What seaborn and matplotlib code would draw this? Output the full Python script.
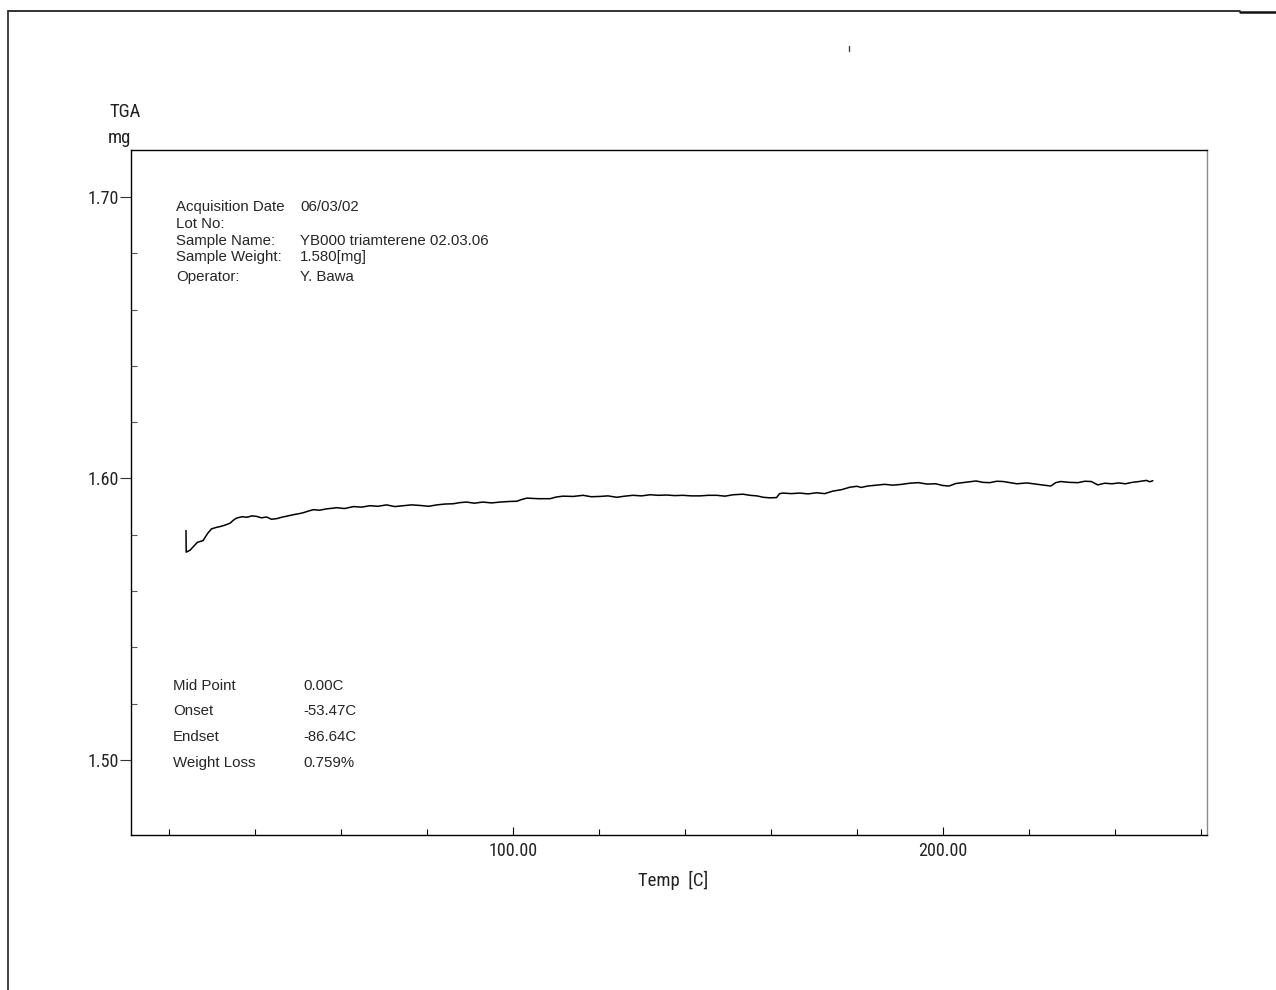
import numpy as np
import pandas as pd
import matplotlib
matplotlib.use("Agg")
import matplotlib.pyplot as plt
from matplotlib import font_manager
import seaborn as sns

# TGA trace: temperature [C] and sample mass [mg]
temp_c = [
    23.95, 24.0, 24.9, 25.8, 26.6, 27.9, 29.0, 29.9, 31.0, 31.9, 33.0, 34.2, 35.0, 35.7,
    37.0, 38.1, 39.3, 40.4, 41.5, 42.7, 43.8, 45.0, 46.2, 47.4, 48.9, 50.0, 51.2, 52.4,
    53.6, 55.0, 56.7, 58.0, 59.0, 60.8, 62.9, 64.8, 66.7, 68.6, 70.6, 72.5, 74.5, 76.4,
    78.4, 80.4, 82.3, 84.2, 86.1, 87.6, 89.2, 91.0, 93.0, 95.0, 97.0, 99.0, 100.9, 102.0,
    103.2, 105.9, 108.6, 110.1, 111.6, 114.0, 116.3, 118.2, 120.2, 122.1, 124.1, 126.0,
    127.9, 129.9, 131.9, 133.8, 135.7, 137.6, 139.5, 141.5, 143.5, 145.4, 147.4, 149.3,
    151.2, 153.5, 155.1, 156.7, 158.2, 159.8, 161.3, 162.0, 162.8, 164.7, 166.7, 168.6,
    170.6, 172.5, 174.4, 176.4, 178.4, 180.0, 181.0, 182.5, 184.4, 186.4, 188.4, 190.4,
    192.3, 194.3, 196.3, 198.3, 199.9, 201.4, 203.0, 204.6, 206.1, 207.7, 209.3, 210.9,
    212.5, 214.0, 215.6, 217.2, 219.5, 221.9, 223.5, 225.1, 226.2, 227.4, 229.4, 231.4,
    233.0, 234.5, 236.0, 237.6, 239.3, 240.9, 242.4, 244.0, 245.6, 247.3, 248.1, 248.8,
]
mass_mg = [
    1.5815, 1.5738, 1.5745, 1.5760, 1.5773, 1.5779, 1.5805, 1.5821, 1.5826, 1.5829, 1.5834, 1.5841, 1.5852, 1.5859,
    1.5864, 1.5862, 1.5867, 1.5865, 1.5860, 1.5863, 1.5855, 1.5857, 1.5862, 1.5866, 1.5871, 1.5874, 1.5878, 1.5884,
    1.5889, 1.5887, 1.5892, 1.5894, 1.5896, 1.5893, 1.5900, 1.5898, 1.5903, 1.5901, 1.5906, 1.5900, 1.5903, 1.5906,
    1.5904, 1.5901, 1.5906, 1.5909, 1.5910, 1.5914, 1.5916, 1.5912, 1.5916, 1.5913, 1.5916, 1.5918, 1.5919, 1.5925,
    1.5930, 1.5928, 1.5928, 1.5934, 1.5937, 1.5936, 1.5940, 1.5935, 1.5936, 1.5938, 1.5933, 1.5937,
    1.5940, 1.5938, 1.5942, 1.5940, 1.5941, 1.5939, 1.5940, 1.5938, 1.5938, 1.5940, 1.5940, 1.5937,
    1.5942, 1.5944, 1.5940, 1.5938, 1.5933, 1.5931, 1.5932, 1.5946, 1.5948, 1.5946, 1.5948, 1.5945,
    1.5949, 1.5946, 1.5955, 1.5960, 1.5969, 1.5972, 1.5968, 1.5973, 1.5976, 1.5979, 1.5976, 1.5979,
    1.5983, 1.5985, 1.5980, 1.5981, 1.5975, 1.5973, 1.5982, 1.5985, 1.5988, 1.5991, 1.5986, 1.5985,
    1.5990, 1.5989, 1.5985, 1.5981, 1.5984, 1.5979, 1.5976, 1.5973, 1.5985, 1.5989, 1.5986, 1.5985,
    1.5990, 1.5989, 1.5977, 1.5983, 1.5981, 1.5984, 1.5981, 1.5986, 1.5989, 1.5993, 1.5988, 1.5992,
]

# Tick values and labels
x_major = [100.0, 200.0]
x_major_labels = ["100.00", "200.00"]
x_minor = [20, 40, 60, 80, 120, 140, 160, 180, 220, 240, 260]
y_major = [1.50, 1.60, 1.70]
y_major_labels = ["1.50", "1.60", "1.70"]
y_minor = [1.52, 1.54, 1.56, 1.58, 1.62, 1.64, 1.66, 1.68]

# Run information text
info_keys = ["Acquisition Date", "Lot No:", "Sample Name:", "Sample Weight:", "Operator:"]
info_vals = ["06/03/02", "", "YB000 triamterene 02.03.06", "1.580[mg]", "Y. Bawa"]
result_keys = ["Mid Point", "Onset", "Endset", "Weight Loss"]
result_vals = ["0.00C", "-53.47C", "-86.64C", "0.759%"]

sns.set_theme(style="white")
plt.rcParams["font.family"] = ["Liberation Sans", "DejaVu Sans"]

# Pick a condensed face for the axis labels if one is available
available = {f.name for f in font_manager.fontManager.ttflist}
narrow_pref = ["Liberation Sans Narrow", "DejaVu Sans Condensed", "Roboto Condensed",
               "Open Sans Condensed"]
narrow_name = next((n for n in narrow_pref if n in available), None)
if narrow_name is not None:
    narrow = [narrow_name, "DejaVu Sans"]
    nsize = 13
else:
    narrow = ["Roboto", "DejaVu Sans"]
    nsize = 11.5

W, H = 1276, 990
fig = plt.figure(figsize=(W / 100, H / 100), dpi=100)
fig.patch.set_facecolor("white")

def fx(px):
    return px / W

def fy(py):
    return 1 - py / H

ax = fig.add_axes([fx(131), fy(835), fx(1207) - fx(131), fy(150) - fy(835)])

df = pd.DataFrame({"Temp": temp_c, "Mass": mass_mg})
sns.lineplot(data=df, x="Temp", y="Mass", ax=ax, color="black", linewidth=1.1,
             sort=False, estimator=None)

ax.set_xlim(11.16, 261.4)
ax.set_ylim(1.4733, 1.7167)

for side in ["left", "bottom", "top"]:
    ax.spines[side].set_color("black")
    ax.spines[side].set_linewidth(1.0)
ax.spines["right"].set_color("#8a8a8a")
ax.spines["right"].set_linewidth(1.0)

ax.set_xticks(x_major)
ax.set_xticklabels(x_major_labels, family=narrow, fontsize=nsize, color="#222222")
ax.set_xticks(x_minor, minor=True)
ax.set_yticks(y_major)
ax.set_yticklabels(y_major_labels, family=narrow, fontsize=nsize, color="#222222")
ax.set_yticks(y_minor, minor=True)
ax.tick_params(axis="x", which="major", direction="in", length=6, width=0.8, pad=5,
               bottom=True, color="black")
ax.tick_params(axis="x", which="minor", direction="in", length=4, width=0.8, bottom=True,
               color="black")
ax.tick_params(axis="y", which="major", direction="out", length=8, width=0.8, pad=1,
               left=True, color="#333333")
ax.tick_params(axis="y", which="minor", direction="in", length=4, width=0.8, left=True,
               color="#555555")
ax.set_xlabel("")
ax.set_ylabel("")
ax.grid(False)

# Axis titles
fig.text(fx(638), fy(880), "Temp  [C]", family=narrow, fontsize=nsize + 0.5, va="center",
         ha="left", color="#222222")
fig.text(fx(109), fy(112), "TGA", family=narrow, fontsize=nsize + 0.5, va="center",
         ha="left", color="#222222")
fig.text(fx(108), fy(138), "mg", family=narrow, fontsize=nsize + 0.5, va="center",
         ha="left", color="#222222")

# Run information
info_y = [207, 223.5, 240.5, 257, 277]
for key, val, yy in zip(info_keys, info_vals, info_y):
    fig.text(fx(176), fy(yy), key, fontsize=10.8, va="center", ha="left")
    fig.text(fx(300), fy(yy), val, fontsize=10.8, va="center", ha="left")

result_y = [686, 711, 737, 763]
for key, val, yy in zip(result_keys, result_vals, result_y):
    fig.text(fx(173), fy(yy), key, fontsize=10.8, va="center", ha="left")
    fig.text(fx(303), fy(yy), val, fontsize=10.8, va="center", ha="left")

# Page frame
frame = fig.add_axes([0, 0, 1, 1], facecolor="none", zorder=-1)
frame.set_xlim(0, W)
frame.set_ylim(H, 0)
frame.axis("off")
frame.plot([8, 1240], [10.5, 10.5], color="#222222", linewidth=1.3)
frame.plot([1240, 1276], [11.5, 11.5], color="#111111", linewidth=1.8)
frame.plot([8, 8], [10.5, 990], color="#333333", linewidth=1.3)
frame.plot([849, 849], [46, 51], color="#444444", linewidth=1.0)

fig.savefig("out.png", dpi=100, facecolor="white")
